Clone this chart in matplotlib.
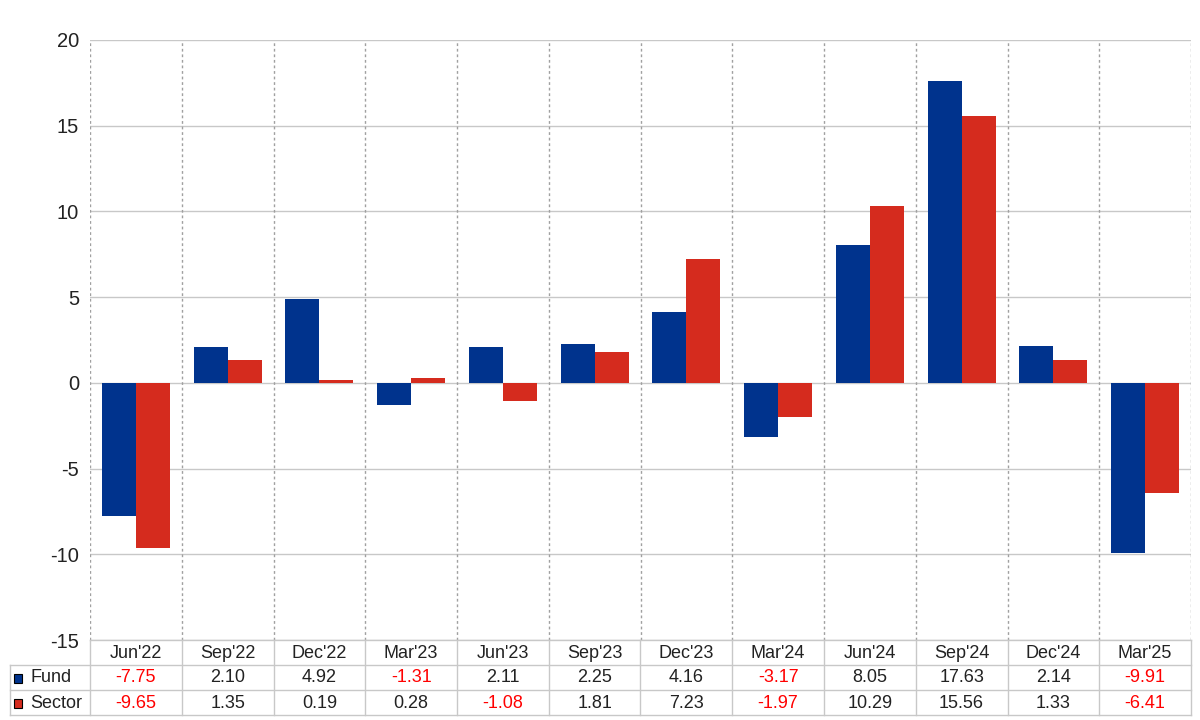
import matplotlib
matplotlib.use("Agg")
import matplotlib.pyplot as plt
import numpy as np
from matplotlib.lines import Line2D
from matplotlib.patches import Rectangle

plt.rcParams['font.family'] = ['Liberation Sans', 'DejaVu Sans']

categories = ["Jun'22", "Sep'22", "Dec'22", "Mar'23", "Jun'23", "Sep'23",
              "Dec'23", "Mar'24", "Jun'24", "Sep'24", "Dec'24", "Mar'25"]
fund = [-7.75, 2.10, 4.92, -1.31, 2.11, 2.25, 4.16, -3.17, 8.05, 17.63, 2.14, -9.91]
sector = [-9.65, 1.35, 0.19, 0.28, -1.08, 1.81, 7.23, -1.97, 10.29, 15.56, 1.33, -6.41]
series_names = ["Fund", "Sector"]
colors = ["#00338D", "#D52B1E"]
yticks = [-15, -10, -5, 0, 5, 10, 15, 20]

W, H = 1200, 720
fig = plt.figure(figsize=(12, 7.2), dpi=100)
ax_l, ax_r, ax_t, ax_b = 90, 1191, 40, 640
ax = fig.add_axes([ax_l / W, 1 - ax_b / H, (ax_r - ax_l) / W, (ax_b - ax_t) / H])

n = len(categories)
x = np.arange(n)
bw = 0.37
ax.bar(x - bw / 2, fund, width=bw, color=colors[0], zorder=3)
ax.bar(x + bw / 2, sector, width=bw, color=colors[1], zorder=3)

ax.set_xlim(-0.5, n - 0.5)
ax.set_ylim(-15, 20)
ax.set_yticks(yticks)
ax.set_yticklabels([str(v) for v in yticks], fontsize=14.5, color="#222222")
ax.tick_params(axis='y', length=0, pad=8)
ax.set_xticks([])
for s in ax.spines.values():
    s.set_visible(False)
for v in yticks:
    ax.axhline(v, color="#c8c8c8", lw=1, zorder=1)
for b in np.arange(-0.5, n, 1.0):
    ax.axvline(b, color="#a0a0a0", lw=1, ls=(0, (2, 2)), zorder=1)

# Table below the axes (figure pixel coordinates)
def fx(px):
    return px / W

def fy(py):
    return 1 - py / H

cell_w = (ax_r - ax_l) / n
grid_col = "#c8c8c8"
tfs = 13
txt_col = "#222222"

# horizontal lines
fig.add_artist(Line2D([fx(ax_l), fx(ax_r)], [fy(640), fy(640)], color=grid_col, lw=1))
for yy in [665, 690, 715]:
    fig.add_artist(Line2D([fx(10), fx(ax_r)], [fy(yy), fy(yy)], color=grid_col, lw=1))
# vertical lines
for i in range(n + 1):
    xx = ax_l + i * cell_w
    fig.add_artist(Line2D([fx(xx), fx(xx)], [fy(640), fy(715)], color=grid_col, lw=1))
fig.add_artist(Line2D([fx(10), fx(10)], [fy(665), fy(715)], color=grid_col, lw=1))

# header row
for i, c in enumerate(categories):
    cx = ax_l + (i + 0.5) * cell_w
    fig.text(fx(cx), fy(653), c, ha='center', va='center', fontsize=tfs, color=txt_col)

# data rows
for r, (name, vals, col) in enumerate(zip(series_names, [fund, sector], colors)):
    cy = 678 + r * 25
    fig.add_artist(Rectangle((fx(14), fy(cy + 4.5)), 8 / W, 9 / H, facecolor=col,
                             edgecolor="black", lw=0.8))
    fig.text(fx(30), fy(cy), name, ha='left', va='center', fontsize=tfs, color=txt_col)
    for i, v in enumerate(vals):
        cx = ax_l + (i + 0.5) * cell_w
        fig.text(fx(cx), fy(cy), f"{v:.2f}", ha='center', va='center', fontsize=tfs,
                 color="#ff0000" if v < 0 else txt_col)

fig.savefig("out.png", dpi=100)
